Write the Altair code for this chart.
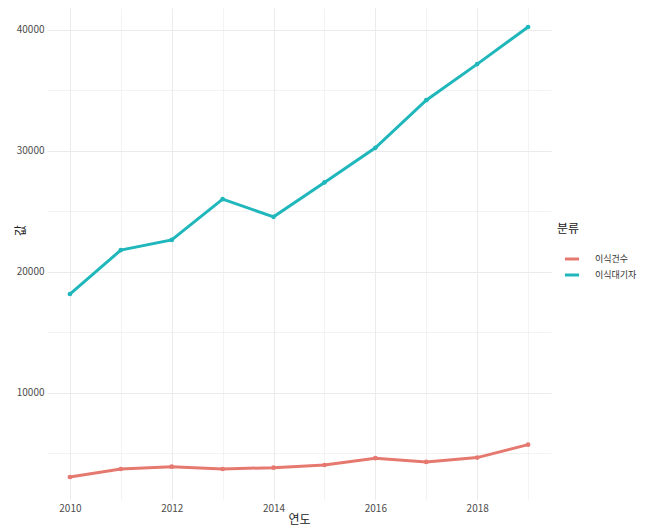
import altair as alt
import pandas as pd

years = [2010, 2011, 2012, 2013, 2014, 2015, 2016, 2017, 2018, 2019]
transplants = [3060, 3720, 3910, 3720, 3830, 4050, 4610, 4300, 4660, 5730]
waiting = [18180, 21810, 22650, 26020, 24560, 27400, 30260, 34200, 37180, 40250]
series = ["이식건수", "이식대기자"]
colors = ["#E5786F", "#1FB7BB"]

rows = []
for y, a, b in zip(years, transplants, waiting):
    rows.append({"연도": y, "분류": series[0], "값": a})
    rows.append({"연도": y, "분류": series[1], "값": b})
df = pd.DataFrame(rows)

FONT = "Noto Sans CJK KR"

x = alt.X(
    "연도:Q",
    scale=alt.Scale(domain=[2009.55, 2019.45], nice=False, zero=False),
    axis=alt.Axis(
        values=list(range(2010, 2020)),
        labelExpr="datum.value % 2 == 0 ? datum.value : ''",
        format="d",
        tickSize=0,
        domain=False,
        labelPadding=3,
        labelFontSize=10,
        labelColor="#4d4d4d",
        titleFontSize=12,
        titleFontWeight="normal",
        titleColor="#222222",
        titlePadding=1,
        gridColor="#ebebeb",
        gridWidth={"condition": {"test": "datum.value % 2 == 0", "value": 1}, "value": 0.6},
    ),
)
y = alt.Y(
    "값:Q",
    scale=alt.Scale(domain=[1157, 41818], nice=False, zero=False),
    axis=alt.Axis(
        values=list(range(5000, 45000, 5000)),
        labelExpr="datum.value % 10000 == 0 ? datum.value : ''",
        format="d",
        tickSize=0,
        domain=False,
        labelPadding=3,
        labelFontSize=10,
        labelColor="#4d4d4d",
        titleFontSize=12,
        titleFontWeight="normal",
        titleColor="#222222",
        titleX=-27,
        titleY=222,
        titleBaseline="middle",
        gridColor="#ebebeb",
        gridWidth={"condition": {"test": "datum.value % 10000 == 0", "value": 1}, "value": 0.6},
    ),
)
color = alt.Color(
    "분류:N",
    scale=alt.Scale(domain=series, range=colors),
    legend=alt.Legend(
        orient="none",
        legendX=510,
        legendY=216,
        symbolType="stroke",
        symbolStrokeWidth=3,
        symbolSize=200,
        symbolOffset=6,
        labelOffset=14,
        labelFontSize=9,
        labelColor="#333333",
        titleFontSize=12,
        titleFontWeight="normal",
        titleColor="#222222",
        titlePadding=14,
        rowPadding=1,
        padding=0,
    ),
)

chart = (
    alt.Chart(df)
    .mark_line(strokeWidth=3, point=alt.OverlayMarkDef(size=22, filled=True, opacity=1))
    .encode(x=x, y=y, color=color)
    .properties(
        width=504,
        height=492,
        autosize=alt.AutoSizeParams(type="none"),
        padding={"left": 39, "top": 0, "right": 88, "bottom": 35},
    )
    .configure(font=FONT)
    .configure_view(stroke=None)
)

chart.save("out.html", embed_options={"renderer": "svg", "actions": False})
